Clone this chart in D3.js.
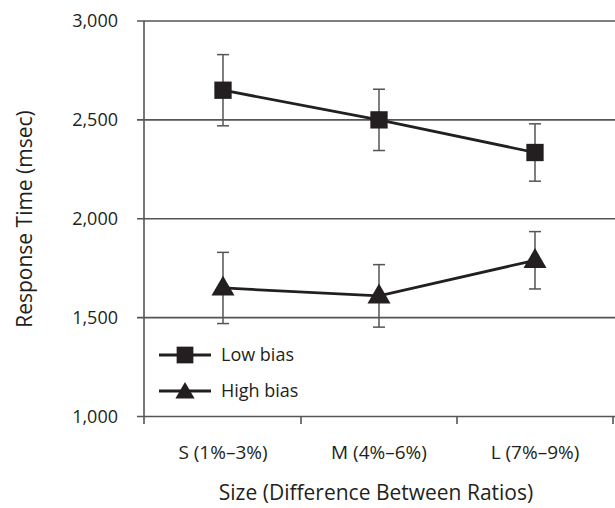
<!DOCTYPE html>
<html><head><meta charset="utf-8">
<script src="https://cdn.jsdelivr.net/npm/d3@7"></script>
<style>body{margin:0;background:#fff;} svg{display:block;font-family:"Open Sans",sans-serif;}</style>
</head><body><svg id="c" width="615" height="508"></svg>
<script>
const categories = ["S (1%–3%)", "M (4%–6%)", "L (7%–9%)"];
const lowBias = [2650, 2500, 2335];
const lowBiasErr = [180, 155, 145];
const highBias = [1650, 1610, 1790];
const highBiasErr = [180, 158, 145];
const yTicks = [1000, 1500, 2000, 2500, 3000];
const seriesNames = ["Low bias", "High bias"];

const svg = d3.select("#c");
const pLeft = 145, pRight = 613, pTop = 21, pBottom = 416.5;
const x = d3.scaleBand().domain(categories).range([pLeft, pRight]);
const y = d3.scaleLinear().domain([1000, 3000]).range([pBottom, pTop]);
const ink = "#231f20", grid = "#555";

// gridlines
svg.append("g").selectAll("line").data(yTicks).join("line")
  .attr("x1", 137).attr("x2", 615)
  .attr("y1", d => y(d)).attr("y2", d => y(d))
  .attr("stroke", grid).attr("stroke-width", 1.6);

// y axis line
svg.append("line").attr("x1", 144).attr("x2", 144).attr("y1", y(3000)).attr("y2", 424)
  .attr("stroke", grid).attr("stroke-width", 1.6);
// x ticks at band edges
const edges = categories.map(c => x(c) + x.bandwidth());
svg.append("g").selectAll("line").data(edges).join("line")
  .attr("x1", d => d).attr("x2", d => d).attr("y1", y(1000)).attr("y2", 424)
  .attr("stroke", grid).attr("stroke-width", 1.6);

// y tick labels
svg.append("g").selectAll("text").data(yTicks).join("text")
  .attr("x", 118).attr("y", d => y(d)).attr("dy", "0.35em")
  .attr("text-anchor", "end").attr("font-size", 18).attr("fill", ink)
  .text(d => d3.format(",")(d));

// x labels
svg.append("g").selectAll("text").data(categories).join("text")
  .attr("x", d => x(d) + x.bandwidth() / 2).attr("y", 459)
  .attr("text-anchor", "middle").attr("font-size", 19).attr("fill", ink)
  .text(d => d);

// axis titles
svg.append("text").attr("x", 376).attr("y", 500).attr("text-anchor", "middle")
  .attr("font-size", 21).attr("fill", ink).text("Size (Difference Between Ratios)");
svg.append("text").attr("transform", "translate(32,219) rotate(-90)").attr("text-anchor", "middle")
  .attr("font-size", 21).attr("fill", ink).text("Response Time (msec)");

const cx = c => x(c) + x.bandwidth() / 2;

function drawSeries(vals, errs, shape) {
  const g = svg.append("g");
  categories.forEach((c, i) => {
    const px = cx(c);
    const y1 = y(vals[i] + errs[i]), y2 = y(vals[i] - errs[i]);
    g.append("line").attr("x1", px).attr("x2", px).attr("y1", y1).attr("y2", y2).attr("stroke", grid).attr("stroke-width", 1.5);
    [y1, y2].forEach(yy => g.append("line").attr("x1", px - 6).attr("x2", px + 6).attr("y1", yy).attr("y2", yy).attr("stroke", grid).attr("stroke-width", 1.5));
  });
  const line = d3.line().x((d, i) => cx(categories[i])).y(d => y(d));
  g.append("path").attr("d", line(vals)).attr("fill", "none").attr("stroke", ink).attr("stroke-width", 2.8);
  const sym = d3.symbol().type(shape).size(shape === d3.symbolSquare ? 300 : 230);
  g.selectAll(".m").data(vals).join("path")
    .attr("transform", (d, i) => `translate(${cx(categories[i])},${y(d) + (shape === d3.symbolTriangle ? 1 : 0)})`)
    .attr("d", sym).attr("fill", ink);
}
drawSeries(lowBias, lowBiasErr, d3.symbolSquare);
drawSeries(highBias, highBiasErr, d3.symbolTriangle);

// legend
const leg = svg.append("g");
const shapes = [d3.symbolSquare, d3.symbolTriangle];
seriesNames.forEach((n, i) => {
  const ly = 355 + i * 36;
  leg.append("line").attr("x1", 159).attr("x2", 211).attr("y1", ly).attr("y2", ly).attr("stroke", ink).attr("stroke-width", 2.8);
  leg.append("path").attr("transform", `translate(185,${ly + (i ? 2 : 0)})`)
    .attr("d", d3.symbol().type(shapes[i]).size(i ? 160 : 280)).attr("fill", ink);
  leg.append("text").attr("x", 221).attr("y", ly).attr("dy", "0.35em").attr("font-size", 18).attr("fill", ink).text(n);
});
</script></body></html>
